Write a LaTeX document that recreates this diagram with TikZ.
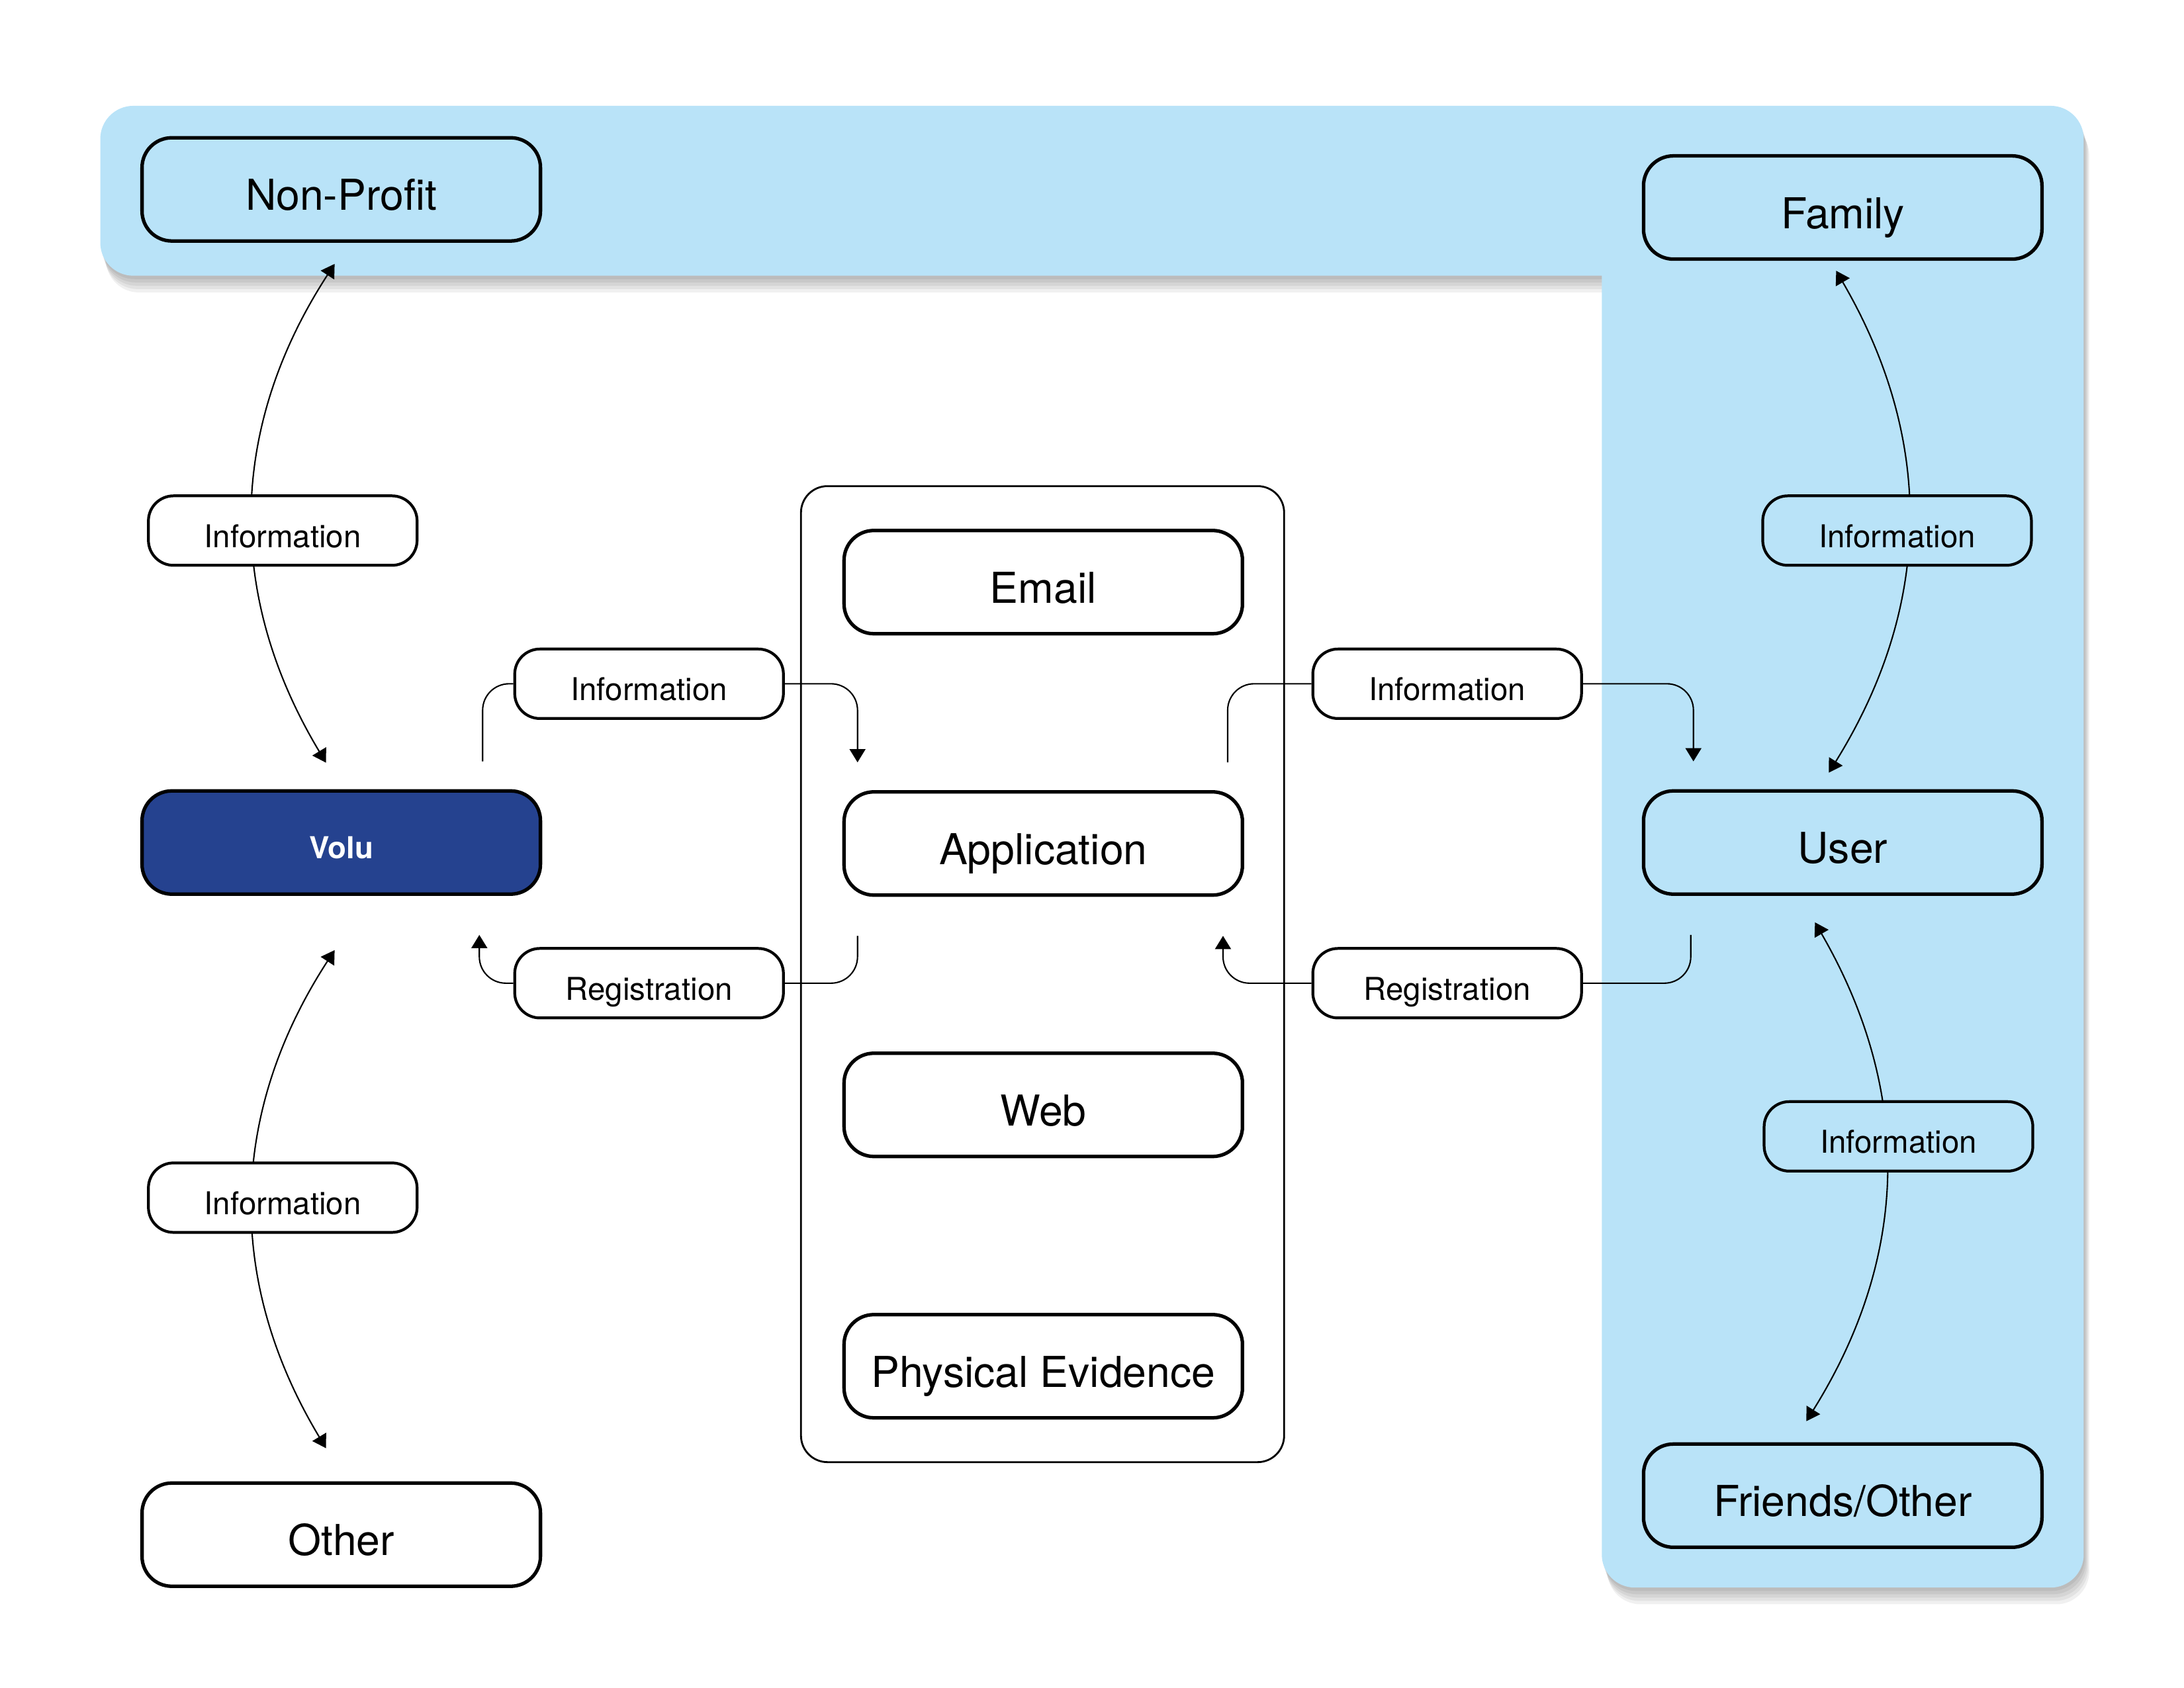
\documentclass[tikz,border=0pt]{standalone}
\usepackage{fontspec}
\setmainfont{TeX Gyre Heros}
\usetikzlibrary{positioning, arrows.meta}
\definecolor{skyblue}{HTML}{B9E3F8}
\definecolor{volublue}{HTML}{25428F}

\begin{document}
\begin{tikzpicture}[x=0.21046mm, y=-0.21046mm, node distance={39.5mm},
  main/.style = {draw, line width=1.5pt, rounded corners=4.5mm, minimum width=60.2mm, minimum height=15.6mm, text height=18pt, text depth=0pt, font=\fontsize{18.3}{22}\selectfont, fill=white},
  tag/.style = {draw, line width=1.2pt, rounded corners=3.8mm, minimum width=40.6mm, minimum height=10.5mm, text height=14.5pt, text depth=0pt, font=\fontsize{13.5}{16}\selectfont, fill=white},
  link/.style = {line width=0.6pt},
  tip/.style = {link, -{Triangle[length=2mm,width=2.4mm]}},
  twoway/.style = {link, {Triangle[length=2mm,width=2.4mm]}-{Triangle[length=2mm,width=2.4mm]}}]
\useasboundingbox (0,0) rectangle (1568,1212);

% blue area with soft shadow
\foreach \k in {1,...,5}
  \fill[black, opacity=0.06, rounded corners=5mm, shift={(0.8*\k,2.4*\k)}] (72,76) rectangle (1496,198) (1150,76) rectangle (1496,1140);
\fill[skyblue, rounded corners=5mm] (72,76) rectangle (1496,198) (1150,76) rectangle (1496,1140);

\node[draw, line width=0.8pt, rounded corners=4mm, minimum width=73mm, minimum height=147.5mm] (0) at (748.5,699.5) {};

\node[main, fill=skyblue] (1) at (245,136) {Non-Profit};
\node[main, fill=volublue, text=white, text height=14pt, font=\fontsize{13}{16}\selectfont\bfseries] (2) at (245,605) {Volu};
\node[main] (3) at (245,1102) {Other};

\node[main] (4) at (749,418) {Email};
\node[main] (5) [below of=4] {Application};
\node[main] (6) [below of=5] {Web};
\node[main] (7) [below of=6] {Physical Evidence};

\node[main, fill=skyblue] (8) at (1323,149) {Family};
\node[main, fill=skyblue] (9) at (1323,605) {User};
\node[main, fill=skyblue] (10) at (1323,1074) {Friends/Other};

\draw[twoway] ([xshift=-2.3mm, yshift=4mm]2.north) to[bend left=32] ([xshift=-1mm, yshift=-3.2mm]1.south);
\draw[twoway] ([xshift=-2.3mm, yshift=5mm]3.north) to[bend left=32] ([xshift=-1mm, yshift=-8.2mm]2.south);
\draw[twoway] ([xshift=-2.1mm, yshift=2.5mm]9.north) to[bend right=31] ([xshift=-1mm, yshift=-1.5mm]8.south);
\draw[twoway] ([xshift=-5.5mm, yshift=3.2mm]10.north) to[bend right=31] ([xshift=-4.2mm, yshift=-4mm]9.south);

\node[tag] (11) at (203,381) {Information};
\node[tag] (12) at (203,860) {Information};
\node[tag] (13) at (466,491) {Information};
\node[tag] (14) at (466,706) {Registration};
\node[tag] (15) at (1039,491) {Information};
\node[tag] (16) at (1039,706) {Registration};
\node[tag, fill=skyblue] (17) at (1362,381) {Information};
\node[tag, fill=skyblue] (18) at (1363,816) {Information};

\draw[link, rounded corners=4mm] ([xshift=-9mm, yshift=4.2mm]2.north east) |- (13.west);
\draw[tip, rounded corners=4mm] (13.east) -| ([xshift=2.3mm, yshift=4.2mm]5.north west);
\draw[link, rounded corners=4mm] ([xshift=2.3mm, yshift=-5.9mm]5.south west) |- (14.east);
\draw[tip, rounded corners=4mm] (14.west) -| ([xshift=-9.5mm, yshift=-5.9mm]2.south east);
\draw[link, rounded corners=4mm] ([xshift=-2.5mm, yshift=4.2mm]5.north east) |- (15.west);
\draw[tip, rounded corners=4mm] (15.east) -| ([xshift=7.8mm, yshift=4.2mm]9.north west);
\draw[link, rounded corners=4mm] ([xshift=7.4mm, yshift=-5.9mm]9.south west) |- (16.east);
\draw[tip, rounded corners=4mm] (16.west) -| ([xshift=-3.2mm, yshift=-5.9mm]5.south east);

\end{tikzpicture}
\end{document}
